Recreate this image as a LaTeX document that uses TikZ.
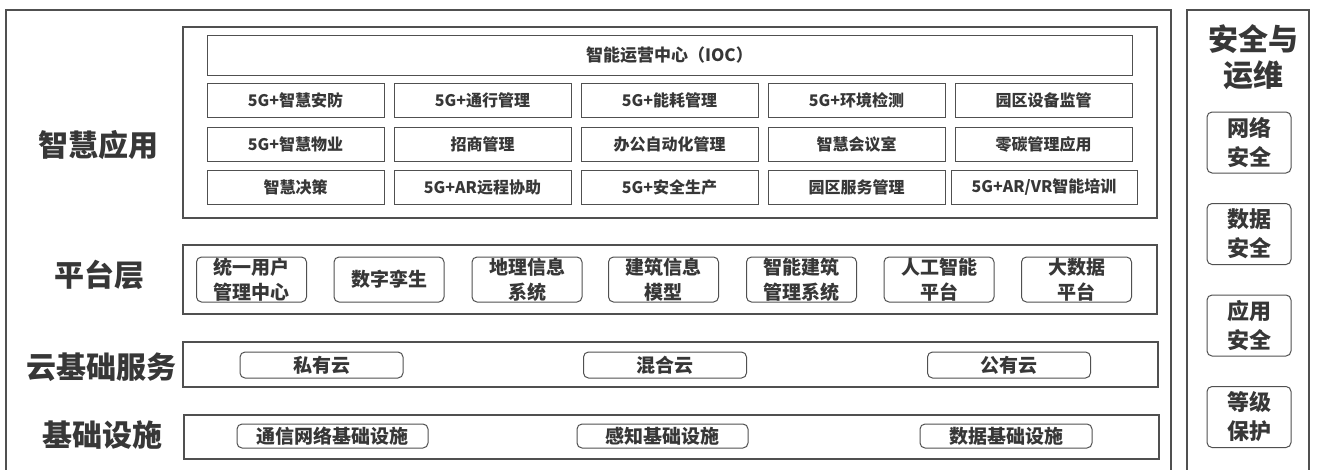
\documentclass[tikz,border=0pt]{standalone}
\usepackage{fontspec}
\setmainfont{Noto Sans CJK SC}
\definecolor{txt}{RGB}{55,55,55}
\definecolor{frm}{RGB}{80,80,80}

\begin{document}
\begin{tikzpicture}[x=1pt, y=-1pt,
        layer/.style={draw=frm, line width=1.6pt},
        app/.style={draw=frm, line width=1pt, minimum width=177pt, minimum height=34pt, inner sep=0pt, text=txt, font=\fontsize{16}{18}\selectfont\bfseries},
        item/.style={draw=frm, line width=1pt, rounded corners=5pt, inner sep=0pt, text=txt, align=center, font=\fontsize{19}{25}\selectfont\bfseries},
        secbox/.style={item, minimum width=84pt, minimum height=61pt, font=\fontsize{22}{29}\selectfont\bfseries},
        lbl/.style={text=txt, align=center, inner sep=0pt, font=\fontsize{30}{36}\selectfont\bfseries}]
        \useasboundingbox (0,0) rectangle (1317,469);
        % frames
        \draw [layer] (6,10) rectangle (1171,480);
        \draw [layer] (1187,10) rectangle (1309,480);
        \draw [layer] (183,27) rectangle (1157,218);
        \draw [layer] (183,245) rectangle (1157,314);
        \draw [layer] (183,342) rectangle (1158,387);
        \draw [layer] (184,415) rectangle (1159,459);
        % layer names
        \node [lbl] (zhyy) at (98,145) {智慧应用};
        \node [lbl] (ptc) at (99,275) {平台层};
        \node [lbl] (yjc) at (102,367) {云基础服务};
        \node [lbl] (jcss) at (102,435) {基础设施};
        \node [lbl, font=\fontsize{30}{36}\selectfont\bfseries] (aqyw) at (1253,57) {安全与\\运维};
        % 智慧应用
        \node [app, minimum width=925pt, minimum height=40pt, font=\fontsize{17}{20}\selectfont\bfseries] (ioc) at (669.5,55) {智能运营中心（IOC）};
        \node [app] (app1) at (295.5,100) {5G+智慧安防};
        \node [app] (app2) at (482.5,100) {5G+通行管理};
        \node [app] (app3) at (669.5,100) {5G+能耗管理};
        \node [app] (app4) at (856.5,100) {5G+环境检测};
        \node [app] (app5) at (1043.5,100) {园区设备监管};
        \node [app] (app6) at (295.5,144.5) {5G+智慧物业};
        \node [app] (app7) at (482.5,144.5) {招商管理};
        \node [app] (app8) at (669.5,144.5) {办公自动化管理};
        \node [app] (app9) at (856.5,144.5) {智慧会议室};
        \node [app] (app10) at (1043.5,144.5) {零碳管理应用};
        \node [app] (app11) at (295.5,187.5) {智慧决策};
        \node [app] (app12) at (482.5,187.5) {5G+AR远程协助};
        \node [app] (app13) at (669.5,187.5) {5G+安全生产};
        \node [app] (app14) at (856.5,187.5) {园区服务管理};
        \node [app, minimum width=186pt] (app15) at (1044,187.5) {5G+AR/VR智能培训};
        % 平台层
        \node [item, minimum width=110pt, minimum height=45pt] (plat1) at (251.5,279.5) {统一用户\\管理中心};
        \node [item, minimum width=110pt, minimum height=45pt] (plat2) at (389,279.5) {数字孪生};
        \node [item, minimum width=110pt, minimum height=45pt] (plat3) at (527,279.5) {地理信息\\系统};
        \node [item, minimum width=110pt, minimum height=45pt] (plat4) at (663.5,279.5) {建筑信息\\模型};
        \node [item, minimum width=110pt, minimum height=45pt] (plat5) at (801.5,279.5) {智能建筑\\管理系统};
        \node [item, minimum width=110pt, minimum height=45pt] (plat6) at (939,279.5) {人工智能\\平台};
        \node [item, minimum width=110pt, minimum height=45pt] (plat7) at (1076.5,279.5) {大数据\\平台};
        % 云基础服务
        \node [item, minimum width=163pt, minimum height=26pt] (cloud1) at (321.5,365) {私有云};
        \node [item, minimum width=163pt, minimum height=26pt] (cloud2) at (665,365) {混合云};
        \node [item, minimum width=163pt, minimum height=26pt] (cloud3) at (1009,365) {公有云};
        % 基础设施
        \node [item, minimum width=191pt, minimum height=24pt] (infra1) at (332.5,436) {通信网络基础设施};
        \node [item, minimum width=171pt, minimum height=24pt] (infra2) at (662.5,436) {感知基础设施};
        \node [item, minimum width=172pt, minimum height=24pt] (infra3) at (1006,436) {数据基础设施};
        % 安全与运维
        \node [secbox] (sec1) at (1249,142.5) {网络\\安全};
        \node [secbox] (sec2) at (1249,234) {数据\\安全};
        \node [secbox] (sec3) at (1249,325.5) {应用\\安全};
        \node [secbox] (sec4) at (1249,417) {等级\\保护};
\end{tikzpicture}
\end{document}
